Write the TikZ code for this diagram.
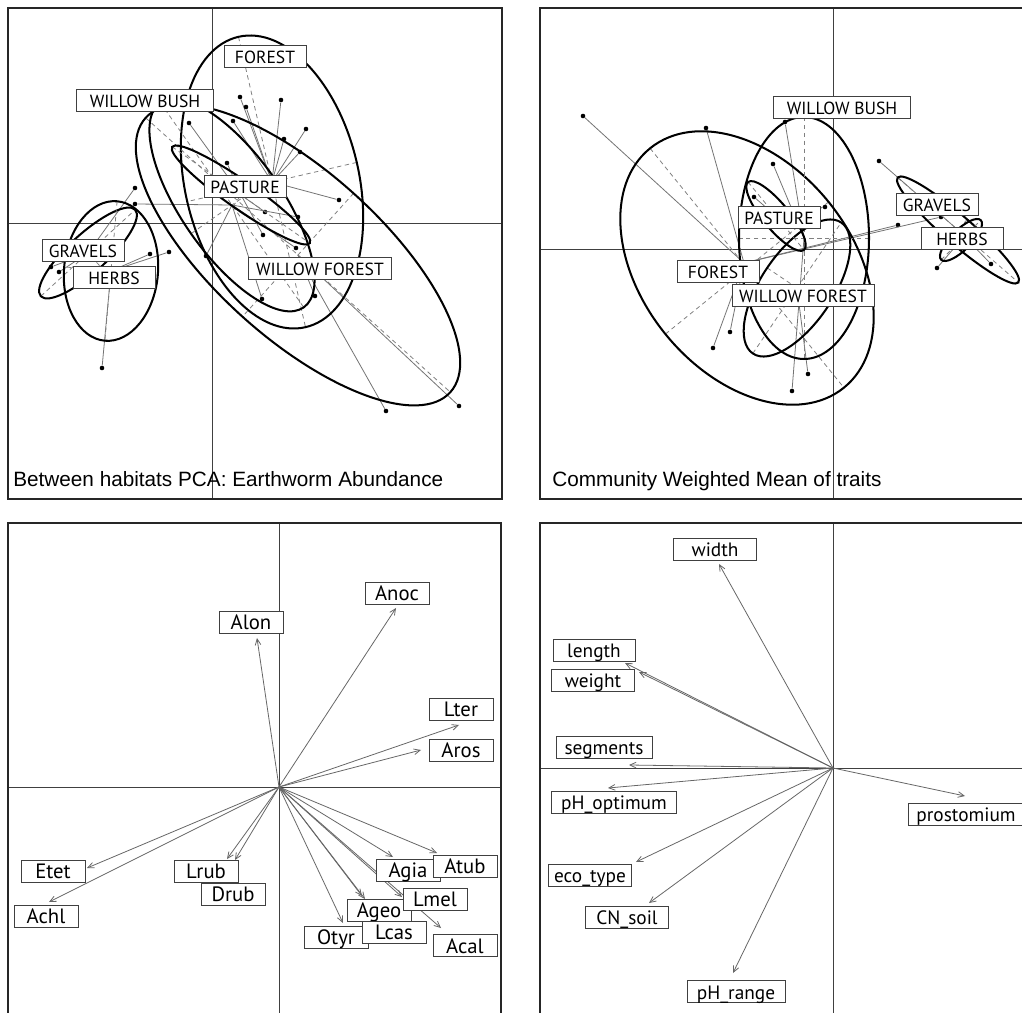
\documentclass[tikz,border=0pt]{standalone}
\usepackage{fontspec}
\setmainfont{Liberation Sans}
\newfontfamily\labfont{PT Sans}
\usetikzlibrary{arrows.meta}

% class ellipse with its two dashed axes: cx, cy, angle below horizontal, a, b
\newcommand{\classell}[5]{%
  \begin{scope}[shift={(#1,#2)}, rotate={-(#3)}]
    \draw[ellaxis] (-#4,0) -- (#4,0);
    \draw[ellaxis] (0,-#5) -- (0,#5);
    \draw[ell] (0,0) ellipse [x radius=#4, y radius=#5];
  \end{scope}}

\begin{document}
\begin{tikzpicture}[x=0.02cm, y=-0.02cm,
  frame/.style={draw=black!85, line width=0.9pt},
  cross/.style={draw=black!75, line width=0.5pt},
  ell/.style={draw=black, line width=1.15pt},
  ellaxis/.style={draw=black!50, line width=0.45pt, dash pattern=on 2.5pt off 2pt},
  star/.style={draw=black!55, line width=0.45pt},
  dot/.style={circle, fill=black, inner sep=0pt, minimum size=2.6pt},
  arr/.style={draw=black!60, line width=0.45pt, -{Straight Barb[length=3.5pt,width=3.2pt]}},
  lab/.style={draw=black!75, fill=white, line width=0.55pt, inner sep=0pt,
    font=\labfont\fontsize{10}{12}\selectfont, text height=0.34cm, text depth=0.02cm,
    minimum height=0.44cm, minimum width={#1*0.02cm}},
  lab/.default=82,
  big/.style={font=\labfont\fontsize{11}{13}\selectfont},
  bigger/.style={font=\labfont\fontsize{11.8}{14}\selectfont},
  title/.style={anchor=base west, inner sep=0pt, font=\fontsize{11.8}{14}\selectfont}]

\fill[white] (0,0) rectangle (1022,1013);
\useasboundingbox (0,0) rectangle (1022,1013);

% top left: between habitats PCA
\draw[cross] (212,8) -- (212,499);
\draw[cross] (8,223) -- (502,223);
\coordinate (aFor) at (272,182);
\coordinate (aPas) at (241,195);
\coordinate (aWbu) at (232,205);
\coordinate (aWfo) at (298,255);
\coordinate (aGra) at (88,253);
\coordinate (aHer) at (111,271);
\foreach \cen/\x/\y [count=\i] in {aFor/240/97, aFor/281/100, aFor/246/107, aFor/306/129,
    aFor/284/139, aFor/300/152, aFor/233/121, aFor/339/200, aPas/189/123, aPas/227/163,
    aPas/265/212, aPas/263/235, aWbu/135/204, aWbu/206/256, aWbu/262/299, aWbu/296/248,
    aWbu/298/217, aWfo/386/411, aWfo/459/406, aWfo/315/296, aGra/51/267, aGra/59/272,
    aGra/135/188, aHer/102/368, aHer/150/254, aHer/169/252}{
  \node[dot] (a\i) at (\x,\y) {};
  \draw[star] (a\i) -- (\cen);
}
\classell{272}{182}{77}{149}{87}
\classell{298}{255}{42}{205}{83}
\classell{232}{205}{55}{125}{50}
\classell{241}{195}{35}{84}{14}
\classell{88}{253}{-42.5}{64}{19}
\classell{111}{271}{95}{70}{47}
\node[lab] (aForL) at (265,56) {FOREST};
\node[lab=137] (aWbuL) at (145,100) {WILLOW BUSH};
\node[lab] (aPasL) at (245,186) {PASTURE};
\node[lab] (aGraL) at (83,250) {GRAVELS};
\node[lab] (aHerL) at (114,277) {HERBS};
\node[lab=143] (aWfoL) at (320,268) {WILLOW FOREST};
\node[title] (aTitle) at (13,487) {Between habitats PCA: Earthworm Abundance};

% top right: community weighted mean
\draw[cross] (833,8) -- (833,499);
\draw[cross] (540,249) -- (1022,249);
\coordinate (tFor) at (744,263);
\coordinate (tPas) at (776,216);
\coordinate (tWbu) at (804,238);
\coordinate (tWfo) at (797,288);
\coordinate (tGra) at (958,230);
\coordinate (tHer) at (961,240);
\foreach \cen/\x/\y [count=\i] in {tFor/583/116, tFor/706/128, tFor/898/225, tFor/941/217,
    tFor/713/348, tFor/730/332, tWbu/785/122, tWbu/773/164, tWbu/792/391, tPas/754/197,
    tPas/825/207, tWfo/808/374, tGra/879/161, tGra/991/264, tHer/937/268}{
  \node[dot] (t\i) at (\x,\y) {};
  \draw[star] (t\i) -- (\cen);
}
\classell{747}{268}{51}{154}{105}
\classell{804}{238}{90}{121}{65}
\classell{797}{288}{-56}{79}{36}
\classell{776}{216}{50.5}{44}{13}
\classell{958}{230}{41}{80}{14}
\classell{961}{240}{-45}{28}{10}
\node[lab=137] (tWbuL) at (842,107) {WILLOW BUSH};
\node[lab] (tPasL) at (779,217) {PASTURE};
\node[lab] (tForL) at (718,271) {FOREST};
\node[lab=142] (tWfoL) at (803,295) {WILLOW FOREST};
\node[lab] (tGraL) at (937,204) {GRAVELS};
\node[lab] (tHerL) at (962,238) {HERBS};
\node[title] (tTitle) at (552,487) {Community Weighted Mean of traits};

% bottom left: species arrows
\draw[cross] (279,523) -- (279,1013);
\draw[cross] (8,787) -- (501,787);
\coordinate (bO) at (279,787);
\foreach \n/\x/\y in {alon/257/638, anoc/396/608, lter/459/725, aros/421/750, etet/87/868,
    achl/49/902, lrub/227/859, drub/235/860, agia/393/857, atub/437/853, lmel/402/897,
    ageo/365/899, lcas/362/896, otyr/343/923, acal/441/928}{
  \coordinate (b\n) at (\x,\y);
  \draw[arr] (bO) -- (b\n);
}
\foreach \n/\x/\y/\t in {alon/251/622/Alon, anoc/397/593/Anoc, lter/461/709/Lter,
    aros/461/750/Aros, etet/53/871/Etet, achl/46/916/Achl, lrub/206/871/Lrub,
    drub/233/894/Drub, agia/408/870/Agia, atub/465/866/Atub, ageo/379/910/Ageo,
    lmel/435/899/Lmel, otyr/336/937/Otyr, lcas/394/932/Lcas, acal/465/945/Acal}
  \node[lab=64, bigger] (bl\n) at (\x,\y) {\t};

% bottom right: trait arrows
\draw[cross] (833,523) -- (833,1013);
\draw[cross] (540,768) -- (1022,768);
\coordinate (cO) at (833,768);
\foreach \n/\x/\y in {width/719/564, length/625/663, weight/639/672, segments/629/765,
    phopt/608/788, prost/965/796, eco/636/862, cn/649/903, phrange/733/973}{
  \coordinate (c\n) at (\x,\y);
  \draw[arr] (cO) -- (c\n);
}
\foreach \n/\x/\y/\w/\t in {width/715/549/83/width, length/594/650/82/length,
    weight/593/680/83/weight, segments/604/747/96/segments, phopt/614/802/125/pH\_optimum,
    prost/966/814/116/prostomium, eco/590/875/83/eco\_type, cn/627/917/83/CN\_soil,
    phrange/736/991/98/pH\_range}
  \node[lab=\w, big] (cl\n) at (\x,\y) {\t};

% panel frames
\draw[frame] (8,8) rectangle (502,499);
\draw[frame] (540,8) rectangle (1040,499);
\draw[frame] (8,523) rectangle (501,1030);
\draw[frame] (540,523) rectangle (1040,1030);
\end{tikzpicture}
\end{document}
